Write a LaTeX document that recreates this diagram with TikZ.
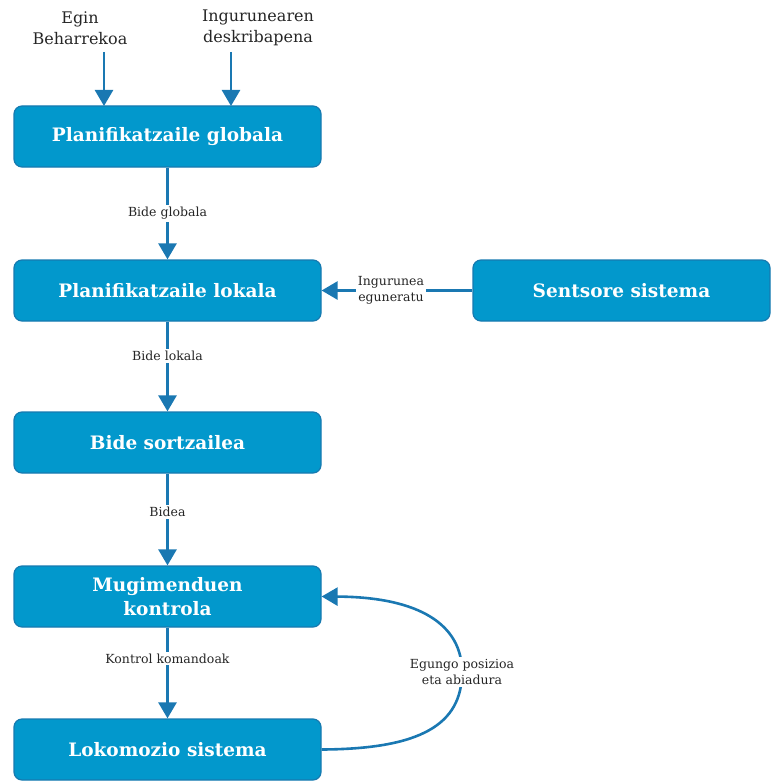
\documentclass[tikz,border=0pt]{standalone}
\usepackage{fontspec}
\setmainfont{DejaVu Serif}
\usetikzlibrary{arrows.meta}
\definecolor{boxfill}{RGB}{2,152,204}
\definecolor{boxline}{RGB}{22,122,176}
\definecolor{flow}{RGB}{26,120,178}
\tikzset{
  x=1pt, y=-1pt,
  block/.style={draw=boxline, line width=1.2pt, fill=boxfill, rounded corners=8pt,
    minimum height=61pt, text=white, font=\bfseries\fontsize{18.5}{24}\selectfont,
    align=center, inner sep=0pt},
  mainblock/.style={block, minimum width=307pt},
  flowline/.style={draw=flow, line width=2.6pt, -{Triangle[width=18pt,length=16pt]}},
  lbl/.style={fill=white, font=\fontsize{12.5}{16}\selectfont, align=center, inner sep=2pt, text=black!85},
  intext/.style={font=\fontsize{16}{21}\selectfont, align=center, inner sep=0pt, text=black!85}
}
\begin{document}
\begin{tikzpicture}
\useasboundingbox (0,0) rectangle (771,781);
% processing blocks
\node[mainblock] (glob) at (167.5,136.5) {Planifikatzaile globala};
\node[mainblock] (lok)  at (167.5,290.5) {Planifikatzaile lokala};
\node[block, minimum width=297pt] (sens) at (621.5,290.5) {Sentsore sistema};
\node[mainblock] (sort) at (167.5,442.5) {Bide sortzailea};
\node[mainblock] (mugi) at (167.5,596.5) {Mugimenduen\\kontrola};
\node[mainblock] (loko) at (167.5,749.5) {Lokomozio sistema};
% external inputs
\node[intext] (egin) at (80,28) {Egin\\Beharrekoa};
\node[intext] (ingur) at (258,28) {Ingurunearen\\deskribapena};
\draw[flowline] (104,52) -- (104,106);
\draw[flowline] (231,52) -- (231,106);
% main chain
\draw[flowline] (glob.south) -- node[lbl]{Bide globala} (lok.north);
\draw[flowline] (lok.south) -- node[lbl, pos=0.38]{Bide lokala} (sort.north);
\draw[flowline] (sort.south) -- node[lbl, pos=0.42]{Bidea} (mugi.north);
\draw[flowline] (mugi.south) -- node[lbl, pos=0.34]{Kontrol komandoak} (loko.north);
\draw[flowline] (sens.west) -- node[lbl, pos=0.54]{Ingurunea\\eguneratu} (lok.east);
% feedback loop
\draw[flowline] (loko.east) .. controls (420,749) and (462,725) .. (462,672)
  node[lbl]{Egungo posizioa\\eta abiadura}
  .. controls (462,625) and (420,597) .. (mugi.east);
\end{tikzpicture}
\end{document}
